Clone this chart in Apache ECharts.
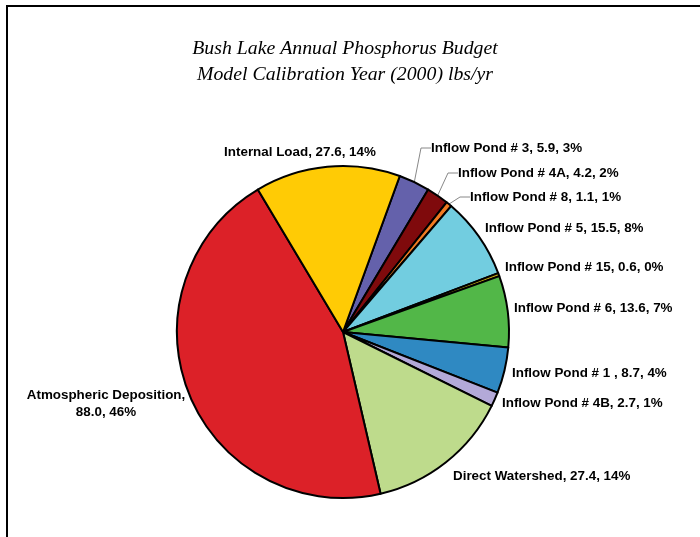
<!DOCTYPE html>
<html>
<head>
<meta charset="utf-8">
<script src="https://cdn.jsdelivr.net/npm/echarts@6/dist/echarts.min.js"></script>
<style>
  html, body { margin: 0; padding: 0; background: #fff; }
  #chart-wrapper { width: 700px; height: 537px; }
</style>
</head>
<body>
<div id="chart-wrapper"></div>
<script>
// slices in drawing order (clockwise, starting just right of 12 o'clock)
const names = [
  "Inflow Pond # 3", "Inflow Pond # 4A", "Inflow Pond # 8", "Inflow Pond # 5",
  "Inflow Pond # 15", "Inflow Pond # 6", "Inflow Pond # 1 ", "Inflow Pond # 4B",
  "Direct Watershed", "Atmospheric Deposition", "Internal Load"
];
const values = [5.9, 4.2, 1.1, 15.5, 0.6, 13.6, 8.7, 2.7, 27.4, 88.0, 27.6];
const percents = [3, 2, 1, 8, 0, 7, 4, 1, 14, 46, 14];
const colors = [
  "#6461ab", "#7f0a0c", "#f07a22", "#72cde0", "#c2a814", "#52b748",
  "#2f89c2", "#b3a9d8", "#bedb8c", "#dc2128", "#ffcb05"
];

// where Excel put each label: [x, y, align]
const labelPos = [
  [431, 148, "left"], [458, 173, "left"], [470, 197, "left"], [485, 228, "left"],
  [505, 267, "left"], [514, 308, "left"], [512, 373, "left"], [502, 403, "left"],
  [453, 476, "left"], [106, 404, "center"], [300, 152, "center"]
];
const withLeader = [0, 1, 2];

const chartDom = document.getElementById("chart-wrapper");
const chart = echarts.init(chartDom, null, { renderer: "canvas" });

const pieData = names.map((n, i) => ({
  name: n,
  value: values[i],
  itemStyle: { color: colors[i] },
  labelLine: { show: withLeader.includes(i) }
}));

const option = {
  animation: false,
  backgroundColor: "#fff",
  title: {
    text: "Bush Lake Annual Phosphorus Budget\nModel Calibration Year (2000) lbs/yr",
    left: 340,
    top: 31,
    textAlign: "center",
    textStyle: {
      fontFamily: "Liberation Serif",
      fontStyle: "italic",
      fontWeight: "normal",
      fontSize: 19.8,
      lineHeight: 26,
      color: "#000"
    }
  },
  graphic: [{
    type: "rect",
    shape: { x: 7, y: 6, width: 720, height: 560 },
    style: { fill: null, stroke: "#000", lineWidth: 2 },
    silent: true
  }],
  series: [{
    type: "pie",
    center: [343, 332],
    radius: 166,
    startAngle: 70,
    clockwise: true,
    avoidLabelOverlap: false,
    data: pieData,
    itemStyle: { borderColor: "#000", borderWidth: 2 },
    emphasis: { disabled: true },
    label: {
      show: true,
      position: "outside",
      fontFamily: "Liberation Sans",
      fontWeight: "bold",
      fontSize: 13.4,
      lineHeight: 17,
      color: "#000",
      formatter: (p) => {
        const i = p.dataIndex;
        const sep = i === 9 ? ",\n" : ", ";
        return names[i] + sep + values[i].toFixed(1) + ", " + percents[i] + "%";
      }
    },
    labelLine: {
      length: 10,
      length2: 10,
      lineStyle: { color: "#888", width: 1 }
    },
    labelLayout: (params) => {
      const pos = labelPos[params.dataIndex];
      return {
        x: pos[0],
        y: pos[1],
        align: pos[2],
        verticalAlign: "middle"
      };
    }
  }]
};

chart.setOption(option);
</script>
</body>
</html>
